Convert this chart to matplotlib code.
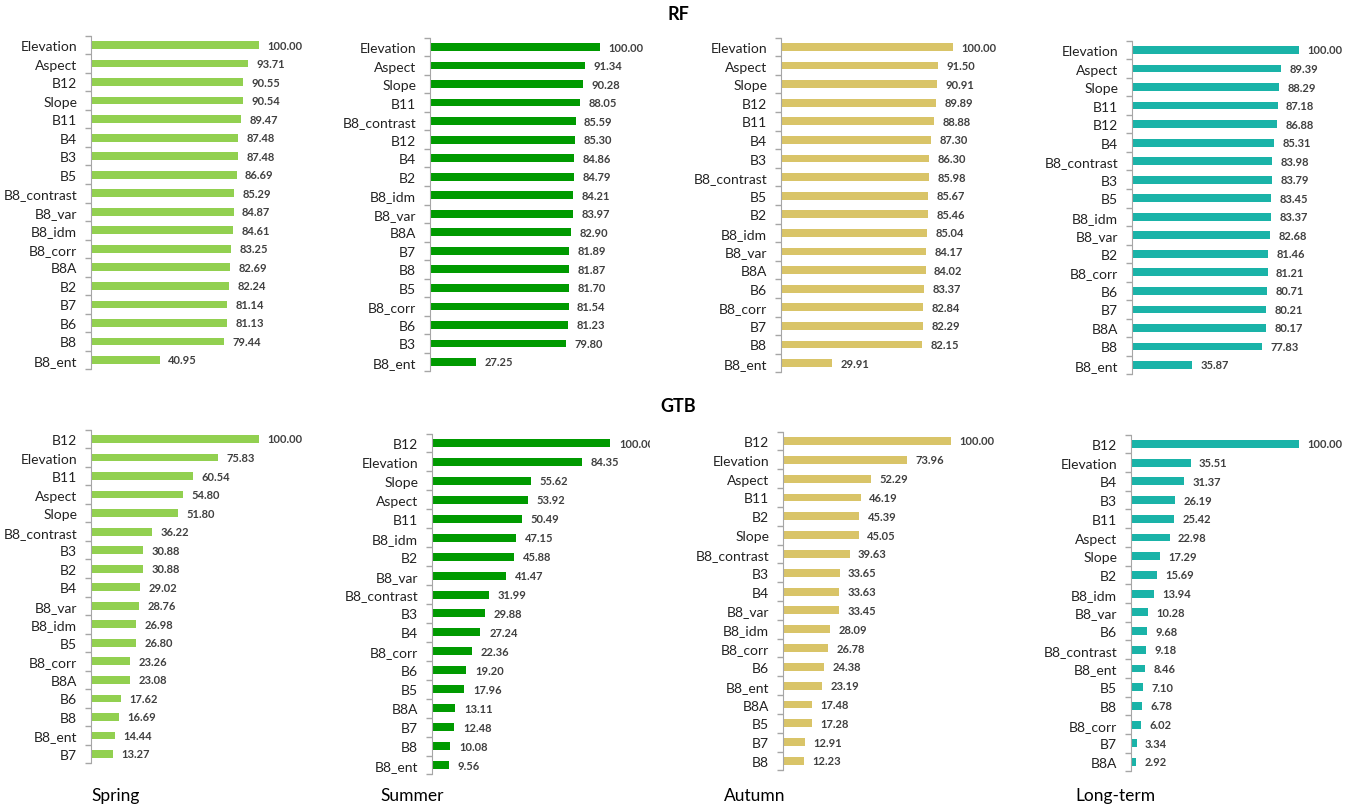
import matplotlib.pyplot as plt

plt.rcParams['font.family'] = ['Lato', 'DejaVu Sans']

# RF importance, one list of names and values per season (top to bottom)
rf_spring_names = ["Elevation", "Aspect", "B12", "Slope", "B11", "B4", "B3", "B5", "B8_contrast",
                   "B8_var", "B8_idm", "B8_corr", "B8A", "B2", "B7", "B6", "B8", "B8_ent"]
rf_spring_vals = [100.00, 93.71, 90.55, 90.54, 89.47, 87.48, 87.48, 86.69, 85.29,
                  84.87, 84.61, 83.25, 82.69, 82.24, 81.14, 81.13, 79.44, 40.95]

rf_summer_names = ["Elevation", "Aspect", "Slope", "B11", "B8_contrast", "B12", "B4", "B2", "B8_idm",
                   "B8_var", "B8A", "B7", "B8", "B5", "B8_corr", "B6", "B3", "B8_ent"]
rf_summer_vals = [100.00, 91.34, 90.28, 88.05, 85.59, 85.30, 84.86, 84.79, 84.21,
                  83.97, 82.90, 81.89, 81.87, 81.70, 81.54, 81.23, 79.80, 27.25]

rf_autumn_names = ["Elevation", "Aspect", "Slope", "B12", "B11", "B4", "B3", "B8_contrast", "B5",
                   "B2", "B8_idm", "B8_var", "B8A", "B6", "B8_corr", "B7", "B8", "B8_ent"]
rf_autumn_vals = [100.00, 91.50, 90.91, 89.89, 88.88, 87.30, 86.30, 85.98, 85.67,
                  85.46, 85.04, 84.17, 84.02, 83.37, 82.84, 82.29, 82.15, 29.91]

rf_long_names = ["Elevation", "Aspect", "Slope", "B11", "B12", "B4", "B8_contrast", "B3", "B5",
                 "B8_idm", "B8_var", "B2", "B8_corr", "B6", "B7", "B8A", "B8", "B8_ent"]
rf_long_vals = [100.00, 89.39, 88.29, 87.18, 86.88, 85.31, 83.98, 83.79, 83.45,
                83.37, 82.68, 81.46, 81.21, 80.71, 80.21, 80.17, 77.83, 35.87]

# GTB importance
gtb_spring_names = ["B12", "Elevation", "B11", "Aspect", "Slope", "B8_contrast", "B3", "B2", "B4",
                    "B8_var", "B8_idm", "B5", "B8_corr", "B8A", "B6", "B8", "B8_ent", "B7"]
gtb_spring_vals = [100.00, 75.83, 60.54, 54.80, 51.80, 36.22, 30.88, 30.88, 29.02,
                   28.76, 26.98, 26.80, 23.26, 23.08, 17.62, 16.69, 14.44, 13.27]

gtb_summer_names = ["B12", "Elevation", "Slope", "Aspect", "B11", "B8_idm", "B2", "B8_var", "B8_contrast",
                    "B3", "B4", "B8_corr", "B6", "B5", "B8A", "B7", "B8", "B8_ent"]
gtb_summer_vals = [100.00, 84.35, 55.62, 53.92, 50.49, 47.15, 45.88, 41.47, 31.99,
                   29.88, 27.24, 22.36, 19.20, 17.96, 13.11, 12.48, 10.08, 9.56]

gtb_autumn_names = ["B12", "Elevation", "Aspect", "B11", "B2", "Slope", "B8_contrast", "B3", "B4",
                    "B8_var", "B8_idm", "B8_corr", "B6", "B8_ent", "B8A", "B5", "B7", "B8"]
gtb_autumn_vals = [100.00, 73.96, 52.29, 46.19, 45.39, 45.05, 39.63, 33.65, 33.63,
                   33.45, 28.09, 26.78, 24.38, 23.19, 17.48, 17.28, 12.91, 12.23]

gtb_long_names = ["B12", "Elevation", "B4", "B3", "B11", "Aspect", "Slope", "B2", "B8_idm",
                  "B8_var", "B6", "B8_contrast", "B8_ent", "B5", "B8", "B8_corr", "B7", "B8A"]
gtb_long_vals = [100.00, 35.51, 31.37, 26.19, 25.42, 22.98, 17.29, 15.69, 13.94,
                 10.28, 9.68, 9.18, 8.46, 7.10, 6.78, 6.02, 3.34, 2.92]

seasons = ["Spring", "Summer", "Autumn", "Long-term"]
colors = ["#92d050", "#009a00", "#d9c468", "#1ab3a8"]

W, H = 1356, 812
fig = plt.figure(figsize=(W / 100, H / 100), dpi=100)

# (names, values, colour, axis x px, px per 100, first bar y px, last bar y px, xmax, clip)
panels = [
    (rf_spring_names, rf_spring_vals, colors[0], 91, 168, 46, 361, 125, False),
    (rf_summer_names, rf_summer_vals, colors[1], 430, 170, 48, 363, 125, False),
    (rf_autumn_names, rf_autumn_vals, colors[2], 781, 172, 48, 364, 125, False),
    (rf_long_names, rf_long_vals, colors[3], 1132, 167, 51, 366, 125, False),
    (gtb_spring_names, gtb_spring_vals, colors[0], 91, 168, 440, 755, 125, False),
    (gtb_summer_names, gtb_summer_vals, colors[1], 432, 178, 444, 766, 122.5, True),
    (gtb_autumn_names, gtb_autumn_vals, colors[2], 783, 168, 442, 762, 125, False),
    (gtb_long_names, gtb_long_vals, colors[3], 1131, 168, 445, 763, 125, False),
]

for names, vals, col, x0, scale, y_first, y_last, xmax, clip in panels:
    n = len(names)
    step = (y_last - y_first) / (n - 1)
    top = y_first - step / 2
    height = step * n
    width = scale * xmax / 100
    ax = fig.add_axes([x0 / W, 1 - (top + height) / H, width / W, height / H])
    pos = list(range(n))
    ax.barh(pos, vals, height=0.42, color=col)
    for p, v in zip(pos, vals):
        ax.text(v + 5, p, f"{v:.2f}", va="center", ha="left", fontsize=8,
                fontweight="bold", color="#404040", clip_on=clip)
    ax.set_xlim(0, xmax)
    ax.set_ylim(n - 0.5, -0.5)
    ax.set_yticks(pos)
    ax.set_yticklabels(names, fontsize=10, color="#222222")
    ax.set_yticks([k - 0.5 for k in range(n + 1)], minor=True)
    ax.tick_params(axis="y", which="major", length=0, pad=10)
    ax.tick_params(axis="y", which="minor", length=4, color="#a6a6a6", width=1)
    ax.set_xticks([])
    for side in ["top", "right", "bottom"]:
        ax.spines[side].set_visible(False)
    ax.spines["left"].set_color("#a6a6a6")
    ax.patch.set_alpha(0)

fig.text(678 / W, 1 - 15 / H, "RF", ha="center", va="center", fontsize=13, fontweight="bold")
fig.text(678 / W, 1 - 407 / H, "GTB", ha="center", va="center", fontsize=13, fontweight="bold")
for name, xc in zip(seasons, [116, 412, 755, 1115]):
    fig.text(xc / W, 1 - 796 / H, name, ha="center", va="center", fontsize=12.5)

fig.savefig("out.png", dpi=100, facecolor="white")
